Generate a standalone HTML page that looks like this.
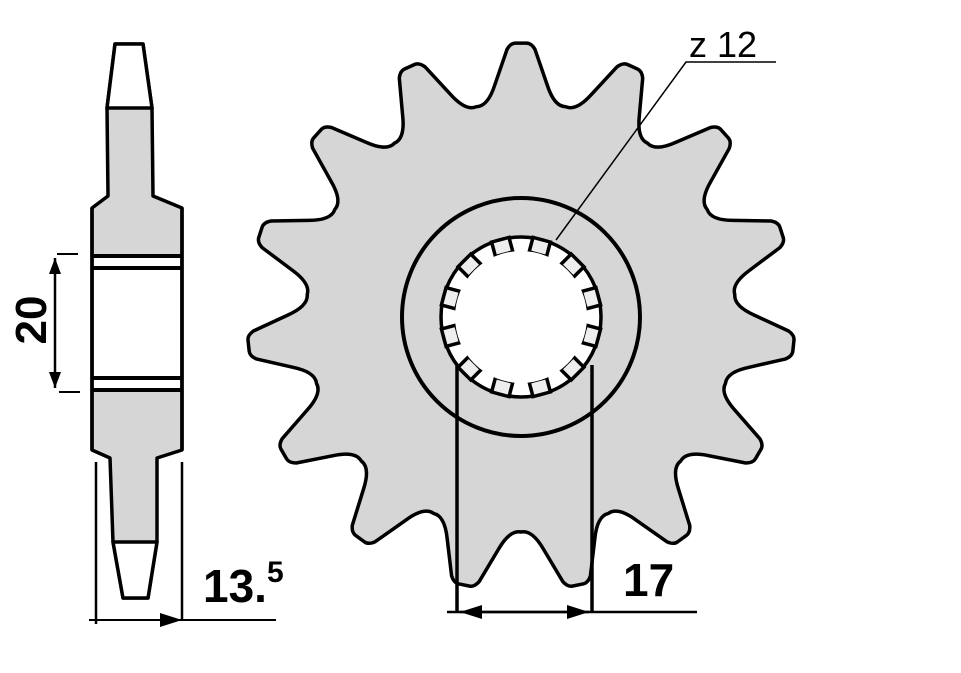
<!DOCTYPE html>
<html><head><meta charset="utf-8">
<style>
html,body{margin:0;padding:0;background:#fff;}
svg{display:block;}
text{font-family:"Liberation Sans",sans-serif;}
</style></head>
<body>
<svg id="s" width="961" height="673" viewBox="0 0 961 673" xmlns="http://www.w3.org/2000/svg">
<defs>
<marker id="ah" viewBox="0 0 22 14" refX="22" refY="7" markerWidth="22" markerHeight="14" orient="auto-start-reverse" markerUnits="userSpaceOnUse">
<path d="M0,0 L22,7 L0,14 z" fill="#000"/></marker>
<marker id="as" viewBox="0 0 16 12" refX="16" refY="6" markerWidth="16" markerHeight="12" orient="auto-start-reverse" markerUnits="userSpaceOnUse">
<path d="M0,0 L16,6 L0,12 z" fill="#000"/></marker>
</defs>
<!-- side profile -->
<path d="M115,44 L143,44 L152,108 L153,196 L182,208 L182,450 L157,458 L157,542 L148,598 L123,598 L113,542 L110,458 L92,450 L92,208 L108,196 L107,108 Z" fill="#d6d6d6" stroke="#000" stroke-width="3.5" stroke-linejoin="round"/>
<path d="M115,44 L143,44 L152,108 L107,108 Z" fill="#fff" stroke="#000" stroke-width="3.5" stroke-linejoin="round"/>
<path d="M113,542 L157,542 L148,598 L123,598 Z" fill="#fff" stroke="#000" stroke-width="3.5" stroke-linejoin="round"/>
<rect x="94" y="256" width="86" height="134" fill="#fff"/>
<line x1="92" y1="256" x2="182" y2="256" stroke="#000" stroke-width="4"/>
<line x1="92" y1="268" x2="182" y2="268" stroke="#000" stroke-width="4"/>
<line x1="92" y1="378" x2="182" y2="378" stroke="#000" stroke-width="4"/>
<line x1="92" y1="390" x2="182" y2="390" stroke="#000" stroke-width="4"/>
<line x1="92" y1="208" x2="92" y2="450" stroke="#000" stroke-width="3.5"/>
<line x1="182" y1="208" x2="182" y2="450" stroke="#000" stroke-width="3.5"/>
<!-- 20 dimension -->
<line x1="57" y1="254" x2="78" y2="254" stroke="#000" stroke-width="2"/>
<line x1="59" y1="392" x2="80" y2="392" stroke="#000" stroke-width="2"/>
<line x1="55" y1="258" x2="55" y2="388" stroke="#000" stroke-width="2.5" marker-start="url(#as)" marker-end="url(#as)"/>
<text x="0" y="0" font-size="44" font-weight="bold" transform="translate(46,320) rotate(-90)" text-anchor="middle">20</text>
<!-- 13.5 dimension -->
<line x1="96" y1="462" x2="96" y2="624" stroke="#000" stroke-width="2.5"/>
<line x1="182" y1="462" x2="182" y2="620" stroke="#000" stroke-width="2.5"/>
<line x1="89" y1="620" x2="276" y2="620" stroke="#000" stroke-width="2"/>
<line x1="100" y1="620" x2="182" y2="620" stroke="#000" stroke-width="2" marker-end="url(#ah)"/>
<text x="203" y="602" font-size="46" font-weight="bold">13.<tspan font-size="30" dy="-20">5</tspan></text>
<!-- sprocket -->
<path id="gear" d="" fill="#d6d6d6" stroke="#000" stroke-width="3.5" stroke-linejoin="round"/>
<circle cx="521" cy="317" r="119" fill="none" stroke="#000" stroke-width="4"/>
<circle cx="521" cy="317" r="80" fill="#fff" stroke="#000" stroke-width="3.5"/>
<g id="spl"></g>
<circle cx="521" cy="317" r="66" fill="#fff"/>
<!-- 17 dimension -->
<line x1="457" y1="365" x2="457" y2="612" stroke="#000" stroke-width="3.5"/>
<line x1="592" y1="365" x2="592" y2="612" stroke="#000" stroke-width="3.5"/>
<line x1="447" y1="612" x2="697" y2="612" stroke="#000" stroke-width="2.5"/>
<line x1="520" y1="612" x2="460" y2="612" stroke="#000" stroke-width="2.5" marker-end="url(#ah)"/>
<line x1="520" y1="612" x2="589" y2="612" stroke="#000" stroke-width="2.5" marker-end="url(#ah)"/>
<text x="623" y="596" font-size="46" font-weight="bold">17</text>
<!-- z12 leader -->
<polyline points="556,240 686,62 776,62" fill="none" stroke="#000" stroke-width="1.5"/>
<text x="689" y="57" font-size="36">z 12</text>
</svg>
<script>
(function(){
var cx=521,cy=317,Rr=215,Rt=274,d="",N=15;
function P(a,r){var t=a*Math.PI/180;return (cx+r*Math.cos(t)).toFixed(1)+","+(cy+r*Math.sin(t)).toFixed(1);}
for(var k=0;k<N;k++){
 var a=-90+24*k;
 var s=a-12;
 if(k==0) d+="M"+P(s,Rr);
 d+=" Q"+P(a-9,Rr-2)+" "+P(a-6.5,Rr+18);
 d+=" L"+P(a-3,Rt-6)+" Q"+P(a-2.2,Rt)+" "+P(a-1.2,Rt);
 d+=" L"+P(a+1.2,Rt)+" Q"+P(a+2.2,Rt)+" "+P(a+3,Rt-6);
 d+=" L"+P(a+6.5,Rr+18)+" Q"+P(a+9,Rr-2)+" "+P(a+12,Rr);
}
d+="Z";
document.getElementById("gear").setAttribute("d",d);
var g=document.getElementById("spl"),h="";
for(var i=0;i<12;i++){
 var an=-75+30*i;
 h+='<rect x="-9" y="-80" width="18" height="15" fill="#eee" stroke="#000" stroke-width="3.5" transform="translate('+cx+','+cy+') rotate('+(an+90)+')"/>';
}
g.innerHTML=h;
})();
</script>
</body></html>
